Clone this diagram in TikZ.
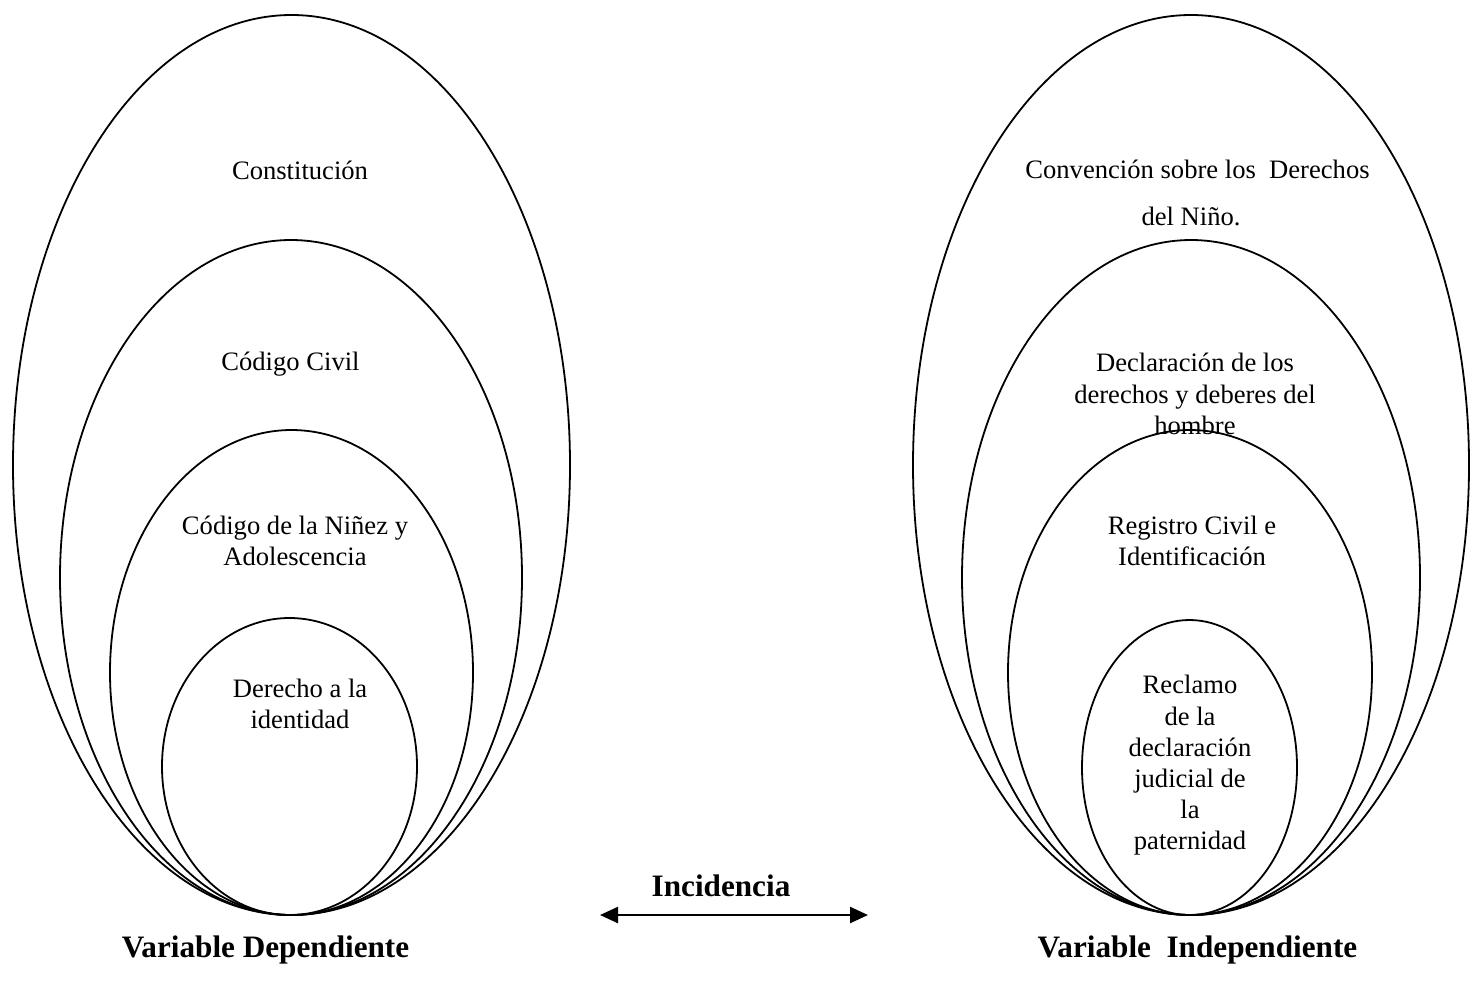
\documentclass[tikz,border=0pt]{standalone}
\usepackage{fontspec}
\setmainfont{Liberation Serif}
\usetikzlibrary{shapes.geometric,arrows.meta}
\begin{document}
\begin{tikzpicture}[x=0.5pt,y=-0.5pt,
  oval/.style={draw,ellipse,line width=0.9pt,inner sep=0pt},
  lbl/.style={align=center,inner sep=0pt,font=\fontsize{13.3pt}{15.6pt}\selectfont},
  blbl/.style={align=center,inner sep=0pt,font=\fontsize{15.6pt}{18pt}\selectfont\bfseries},
  arr/.style={line width=1.2pt,{Triangle[length=9pt,width=8pt]}-{Triangle[length=9pt,width=8pt]}}]
\useasboundingbox (0,0) rectangle (1470,997);
% left ellipses
\node[oval,minimum width=557pt*0.5,minimum height=900pt*0.5] (L1) at (291.5,465) {};
\node[oval,minimum width=462pt*0.5,minimum height=675pt*0.5] (L2) at (291,577.5) {};
\node[oval,minimum width=363pt*0.5,minimum height=485pt*0.5] (L3) at (291.5,672.5) {};
\node[oval,minimum width=255pt*0.5,minimum height=297pt*0.5] (L4) at (289.5,766.5) {};
% right ellipses
\node[oval,minimum width=556pt*0.5,minimum height=900pt*0.5] (R1) at (1191,465) {};
\node[oval,minimum width=458pt*0.5,minimum height=675pt*0.5] (R2) at (1191,577.5) {};
\node[oval,minimum width=364pt*0.5,minimum height=485pt*0.5] (R3) at (1190,672.5) {};
\node[oval,minimum width=215pt*0.5,minimum height=295pt*0.5] (R4) at (1189.5,767.5) {};
% left texts
\node[lbl] (t1) at (300,170) {Constitución};
\node[lbl] (t2) at (290.5,364) {Código Civil};
\node[lbl] (t3) at (295,541) {Código de la Niñez y\\Adolescencia};
\node[lbl] (t4) at (300,703.5) {Derecho a la\\identidad};
% right texts
\node[lbl] (r1a) at (1197.5,169) {Convención sobre los\ \ Derechos};
\node[lbl] (r1b) at (1191,216) {del Niño.};
\node[lbl] (r2) at (1195,394) {Declaración de los\\derechos y deberes del\\hombre};
\node[lbl] (r3) at (1192,541) {Registro Civil e\\Identificación};
\node[lbl] (r4) at (1190,765.5) {Reclamo\\de la\\declaración\\judicial de\\la\\paternidad};
% arrow
\coordinate (aL) at (600,915);
\coordinate (aR) at (868,915);
\draw[arr] (aL) -- (aR);
\node[blbl] (inc) at (721,886) {Incidencia};
\node[blbl] (vd) at (265.5,950) {Variable Dependiente};
\node[blbl] (vi) at (1197.5,950) {Variable\ \ Independiente};
\end{tikzpicture}
\end{document}
